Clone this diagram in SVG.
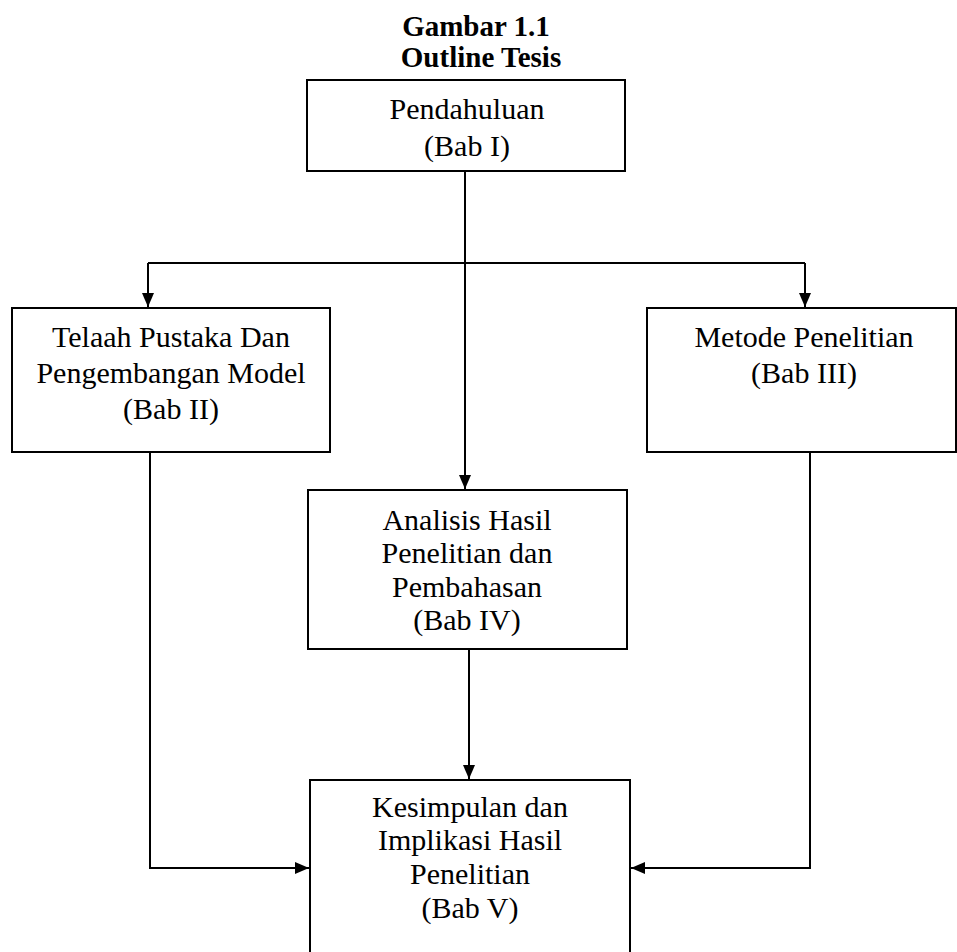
<svg xmlns="http://www.w3.org/2000/svg" width="957" height="952" viewBox="0 0 957 952">
<defs>
<marker id="ah" viewBox="0 0 14 12" refX="14" refY="6" markerWidth="14" markerHeight="12" markerUnits="userSpaceOnUse" orient="auto">
<path d="M0,0 L14,6 L0,12 Z" fill="#000"/>
</marker>
<style>
.box{fill:#fff;stroke:#000;stroke-width:2}
.t{font-family:"Liberation Serif","Times New Roman",serif;font-size:30px;fill:#000;text-anchor:middle}
.title{font-family:"Liberation Serif","Times New Roman",serif;font-size:29px;font-weight:bold;fill:#000;text-anchor:middle}
.c{fill:none;stroke:#000;stroke-width:2}
</style>
</defs>
<rect width="957" height="952" fill="#fff"/>
<g id="title">
<text class="title" x="476" y="36">Gambar 1.1</text>
<text class="title" x="481" y="67">Outline Tesis</text>
</g>
<g id="connectors">
<path class="c" d="M465,171 V489" marker-end="url(#ah)"/>
<path class="c" d="M148,263 H805"/>
<path class="c" d="M148,263 V307" marker-end="url(#ah)"/>
<path class="c" d="M805,263 V307" marker-end="url(#ah)"/>
<path class="c" d="M469,649 V779" marker-end="url(#ah)"/>
<path class="c" d="M150,452 V868 H309" marker-end="url(#ah)"/>
<path class="c" d="M810,452 V868 H631" marker-end="url(#ah)"/>
</g>
<g id="n1">
<rect class="box" x="307" y="80" width="318" height="91"/>
<text class="t" x="467" y="119">Pendahuluan</text>
<text class="t" x="467" y="156">(Bab I)</text>
</g>
<g id="n2">
<rect class="box" x="12" y="308" width="318" height="144"/>
<text class="t" x="171" y="347">Telaah Pustaka Dan</text>
<text class="t" x="171" y="383">Pengembangan Model</text>
<text class="t" x="171" y="419">(Bab II)</text>
</g>
<g id="n3">
<rect class="box" x="647" y="308" width="309" height="144"/>
<text class="t" x="804" y="347">Metode Penelitian</text>
<text class="t" x="804" y="383">(Bab III)</text>
</g>
<g id="n4">
<rect class="box" x="308" y="490" width="319" height="159"/>
<text class="t" x="467" y="530">Analisis Hasil</text>
<text class="t" x="467" y="563">Penelitian dan</text>
<text class="t" x="467" y="597">Pembahasan</text>
<text class="t" x="467" y="630">(Bab IV)</text>
</g>
<g id="n5">
<rect class="box" x="310" y="780" width="320" height="180"/>
<text class="t" x="470" y="817">Kesimpulan dan</text>
<text class="t" x="470" y="850">Implikasi Hasil</text>
<text class="t" x="470" y="884">Penelitian</text>
<text class="t" x="470" y="918">(Bab V)</text>
</g>
</svg>
